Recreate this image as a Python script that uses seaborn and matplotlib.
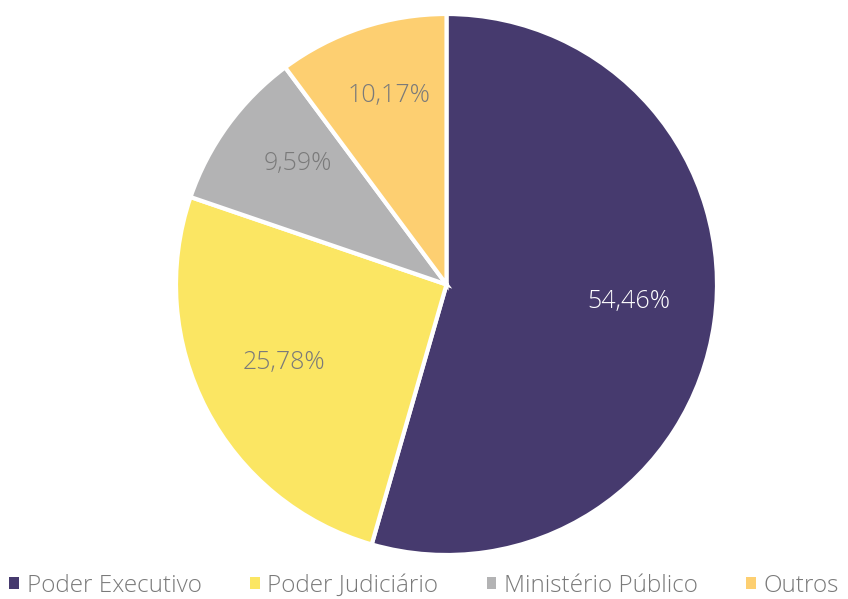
import matplotlib
matplotlib.use("Agg")
import matplotlib.pyplot as plt
import seaborn as sns
from matplotlib.patches import Patch

# dados
categorias = ["Poder Executivo", "Poder Judiciário", "Ministério Público", "Outros"]
valores = [54.46, 25.78, 9.59, 10.17]
cores = ["#463A6E", "#FBE663", "#B3B3B4", "#FDCF71"]
cor_texto = ["white", "#7A7A7A", "#7A7A7A", "#7A7A7A"]

sns.set_theme(style="white")
plt.rcParams["font.family"] = ["Open Sans", "DejaVu Sans"]
plt.rcParams["font.weight"] = 300

fig = plt.figure(figsize=(8.48, 5.99), dpi=100)
raio_px = 270.5
cx, cy = 446.5, 284.5
ax = fig.add_axes([(cx - raio_px) / 848, (599 - cy - raio_px) / 599,
                   2 * raio_px / 848, 2 * raio_px / 599])

wedges, textos, autotextos = ax.pie(
    valores, colors=cores, startangle=90, counterclock=False,
    autopct=lambda p: f"{p:.2f}%".replace(".", ","),
    pctdistance=0.7, radius=1,
    wedgeprops=dict(edgecolor="white", linewidth=3),
)
for t, c in zip(autotextos, cor_texto):
    x, y = t.get_position()
    t.set_position((x * 0.97, y + 0.035))
    t.set_color(c)
    t.set_fontsize(18)
ax.set_xlim(-1, 1)
ax.set_ylim(-1, 1)
ax.set_aspect("equal")
ax.axis("off")

handles = [Patch(facecolor=c, edgecolor="none") for c in cores]
leg = fig.legend(handles, categorias, loc="center", bbox_to_anchor=(0.5, 1 - 586 / 599),
                 ncol=4, frameon=False, fontsize=17.5, handlelength=0.4, handleheight=0.4,
                 handletextpad=0.3, columnspacing=2.0)
for t in leg.get_texts():
    t.set_color("#7A7A7A")

fig.savefig("out.png", dpi=100, facecolor="white")
